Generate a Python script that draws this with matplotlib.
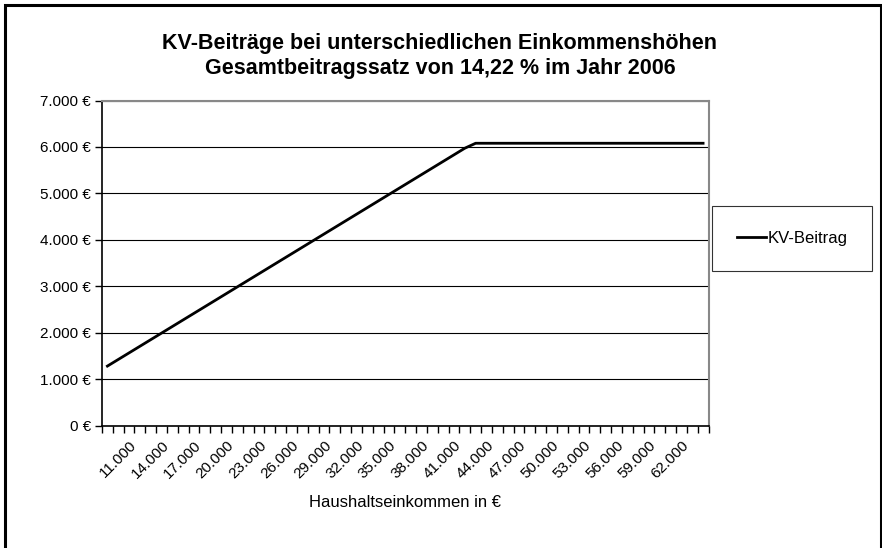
import numpy as np
import matplotlib.pyplot as plt
from matplotlib.patches import Rectangle

plt.rcParams['font.family'] = ['Liberation Sans', 'DejaVu Sans']

# Haushaltseinkommen (categories) and KV-Beitrag
einkommen = [9000, 10000, 11000, 12000, 13000, 14000, 15000, 16000, 17000, 18000,
             19000, 20000, 21000, 22000, 23000, 24000, 25000, 26000, 27000, 28000,
             29000, 30000, 31000, 32000, 33000, 34000, 35000, 36000, 37000, 38000,
             39000, 40000, 41000, 42000, 43000, 44000, 45000, 46000, 47000, 48000,
             49000, 50000, 51000, 52000, 53000, 54000, 55000, 56000, 57000, 58000,
             59000, 60000, 61000, 62000, 63000, 64000]
beitrag = [1279.8, 1422.0, 1564.2, 1706.4, 1848.6, 1990.8, 2133.0, 2275.2, 2417.4, 2559.6,
           2701.8, 2844.0, 2986.2, 3128.4, 3270.6, 3412.8, 3555.0, 3697.2, 3839.4, 3981.6,
           4123.8, 4266.0, 4408.2, 4550.4, 4692.6, 4834.8, 4977.0, 5119.2, 5261.4, 5403.6,
           5545.8, 5688.0, 5830.2, 5972.4, 6079.1, 6079.1, 6079.1, 6079.1, 6079.1, 6079.1,
           6079.1, 6079.1, 6079.1, 6079.1, 6079.1, 6079.1, 6079.1, 6079.1, 6079.1, 6079.1,
           6079.1, 6079.1, 6079.1, 6079.1, 6079.1, 6079.1]
label_every = 3
label_start = 2
yticks = [0, 1000, 2000, 3000, 4000, 5000, 6000, 7000]

W, H = 882, 548
fig = plt.figure(figsize=(W / 100, H / 100), dpi=100)
fig.add_artist(Rectangle((5 / W, -0.05), (881 - 5) / W, 1.05 - 5 / H,
                         transform=fig.transFigure, fill=False, edgecolor='black', lw=2.2))

ax = fig.add_axes([102 / W, 1 - 425.5 / H, (708.5 - 102) / W, (425.5 - 100.5) / H])
x = np.arange(len(einkommen))
line, = ax.plot(x, beitrag, color='black', lw=2, label='KV-Beitrag')

ax.set_xlim(-0.5, len(einkommen) - 0.5)
ax.set_ylim(0, 7000)
ax.set_yticks(yticks)
ax.set_yticklabels(['{:,.0f} €'.format(v).replace(',', '.') for v in yticks], fontsize=11)
ax.yaxis.grid(True, color='black', lw=0.8)
ax.set_axisbelow(True)

idx = list(range(label_start, len(einkommen), label_every))
ax.set_xticks(idx)
ax.set_xticklabels(['{:,.0f}'.format(einkommen[i]).replace(',', '.') for i in idx],
                   rotation=45, ha='right', va='top', rotation_mode='anchor', fontsize=11)
ax.tick_params(axis='x', which='major', length=0, pad=9)
ax.set_xticks(np.arange(-0.5, len(einkommen), 1), minor=True)
ax.tick_params(axis='x', which='minor', length=5, width=1, color='black')
ax.tick_params(axis='y', length=5, width=1, pad=3)

for s in ['top', 'right']:
    ax.spines[s].set_color('#888888')
    ax.spines[s].set_linewidth(1.5)
for s in ['left', 'bottom']:
    ax.spines[s].set_color('black')
    ax.spines[s].set_linewidth(1.2)

ax.set_xlabel('Haushaltseinkommen in €', fontsize=12, labelpad=10)
fig.text(440 / W, 1 - 56 / H,
         'KV-Beiträge bei unterschiedlichen Einkommenshöhen\nGesamtbeitragssatz von 14,22 % im Jahr 2006',
         ha='center', va='center', fontsize=15.5, fontweight='bold', linespacing=1.2)

leg = fig.legend(handles=[line], loc='center', bbox_to_anchor=(792 / W, 1 - 238.5 / H),
                 fontsize=12, frameon=True, fancybox=False, edgecolor='black',
                 handlelength=1.75, handletextpad=0.1, borderpad=1.5, borderaxespad=0)
leg.get_frame().set_linewidth(0.8)

fig.savefig('out.png', dpi=100)
